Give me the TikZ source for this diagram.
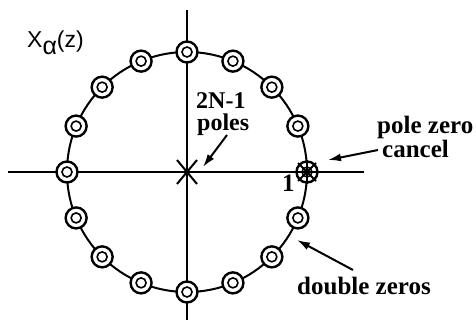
\documentclass[tikz,border=0pt]{standalone}
\usepackage{fontspec}
\setmainfont{Liberation Serif}
\setsansfont{Liberation Sans}
\usetikzlibrary{arrows.meta,calc}
\begin{document}
\begin{tikzpicture}[x=1pt,y=-1pt,
  zero/.style={circle,draw,line width=2.4pt,fill=white,minimum size=21pt,inner sep=0pt,
    path picture={\draw[line width=1.6pt] (path picture bounding box.center) circle (5pt);
      \fill (path picture bounding box.center) circle (1.7pt);}},
  axisline/.style={line width=2pt},
  ucircle/.style={line width=2pt},
  arr/.style={line width=2pt,-{Latex[length=13pt,width=8pt]}},
  lbl/.style={font=\fontsize{25}{20}\selectfont\bfseries,inner sep=0pt,anchor=base west},
  starline/.style={line width=2pt}]
\useasboundingbox (0,0) rectangle (476,324);
\coordinate (c) at (187,172);
% axes
\coordinate (xl) at (8,172);
\coordinate (xr) at (364,172);
\coordinate (yt) at (187,10);
\coordinate (yb) at (187,320);
\draw[axisline] (xl) -- (xr);
\draw[axisline] (yt) -- (yb);
% unit circle
\draw[ucircle] (c) circle (120pt);
% zeros
\foreach \i in {0,...,15}
  \node[zero] (z\i) at ({187+120*cos(22.5*\i)},{172-120*sin(22.5*\i)}) {};
% pole zero cancel star
\draw[starline] ($(z0)+(-9,-9)$) -- ($(z0)+(9,9)$);
\draw[starline] ($(z0)+(-9,9)$) -- ($(z0)+(9,-9)$);
\draw[starline] ($(z0)+(-12,0)$) -- ($(z0)+(12,0)$);
\draw[starline] ($(z0)+(0,-12)$) -- ($(z0)+(0,12)$);
% poles at origin
\node[inner sep=0pt,minimum size=0pt] (pole) at (c) {};
\draw[starline] ($(pole)+(-10,-12)$) -- ($(pole)+(10,12)$);
\draw[starline] ($(pole)+(-10,12)$) -- ($(pole)+(10,-12)$);
% labels
\node[font=\fontsize{23}{23}\selectfont\sffamily,inner sep=0pt,anchor=base west] (title) at (27,47) {X\raisebox{-7pt}{\fontsize{25}{25}\selectfont α}(z)};
\node[lbl] (one) at (282,191) {1};
\node[lbl,align=left,font=\fontsize{24}{22}\selectfont\bfseries] (lpoles) at (196,130) {2N-1\\\hspace{1pt}poles};
\node[lbl,align=left] (lpz) at (377,157) {pole zero\\\hspace{5pt}cancel};
\node[lbl] (ldz) at (297,294) {double zeros};
% arrows
\coordinate (pt) at (227,135);
\coordinate (ph) at (203,167);
\coordinate (ct) at (378,150);
\coordinate (ch) at (328,160);
\coordinate (dt) at (353,270);
\coordinate (dh) at (297,240);
\draw[arr] (pt) -- (ph);
\draw[arr] (ct) -- (ch);
\draw[arr] (dt) -- (dh);
\end{tikzpicture}
\end{document}
